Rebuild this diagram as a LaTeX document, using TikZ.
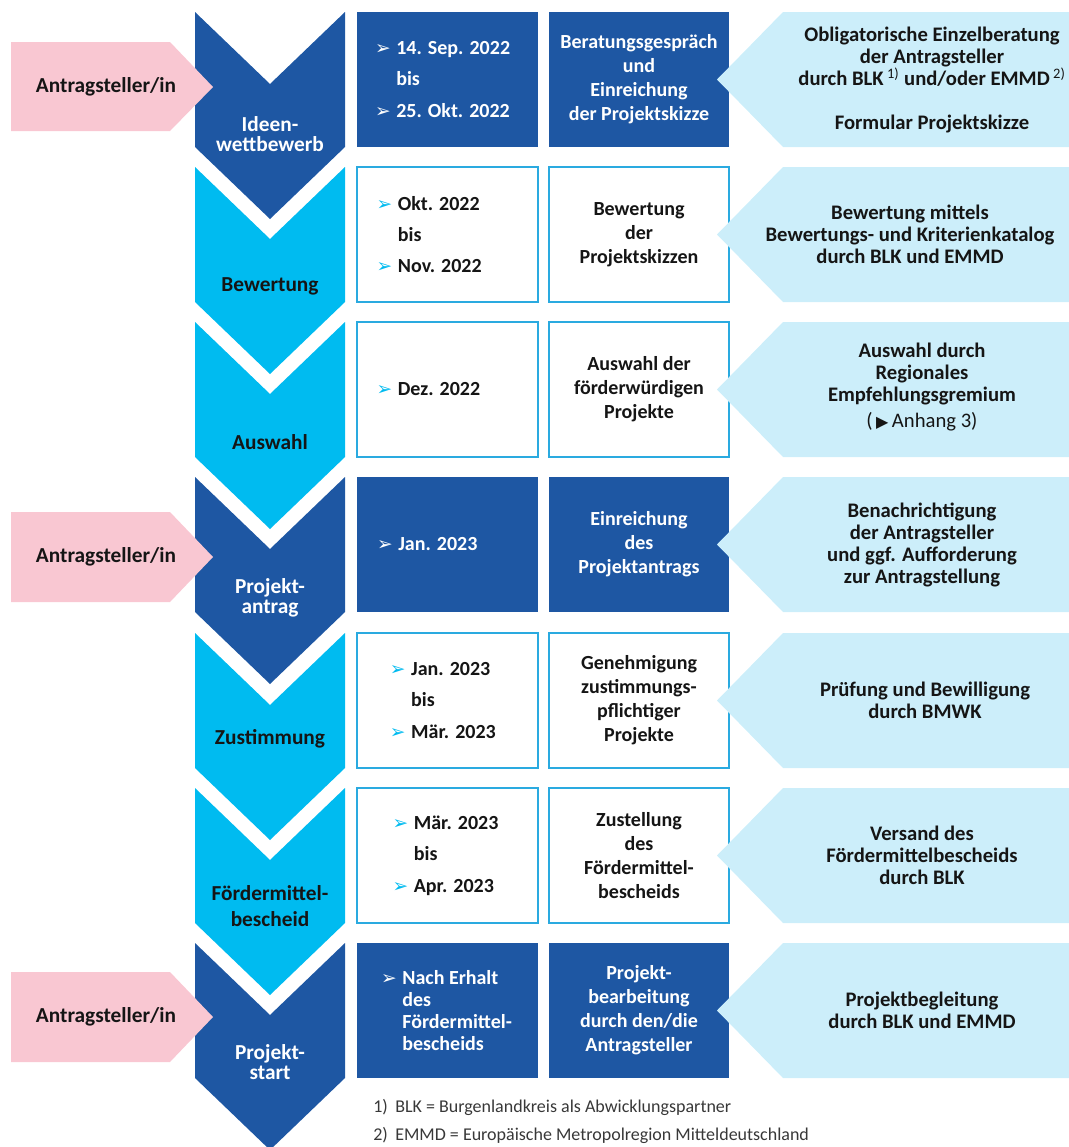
\documentclass[tikz,border=0pt]{standalone}
\usepackage{fontspec}
\setmainfont{Carlito}
\newfontfamily\dejavu{DejaVu Sans}

\definecolor{dkblue}{HTML}{1E57A3}
\definecolor{ltblue}{HTML}{00BBF0}
\definecolor{paleblue}{HTML}{CCEEFA}
\definecolor{rosa}{HTML}{F9C7D2}
\definecolor{frame}{HTML}{2AAAE0}
\definecolor{ink}{HTML}{151515}

\newcommand\dbul[1]{\makebox[16pt][l]{\textcolor{#1}{\dejavu\fontsize{14}{14}\selectfont ➢}}}
\newcommand\dind{\hspace*{16pt}}

\begin{document}
\begin{tikzpicture}[x=0.75pt, y=-0.75pt,
		stage/.style={font=\fontsize{16}{15}\selectfont\bfseries, align=center},
		datebox/.style={minimum width=135.75pt, minimum height=101.25pt, inner sep=0pt},
		actbox/.style={minimum width=135pt, minimum height=101.25pt, inner sep=2pt, align=center,
			font=\fontsize{15}{18}\selectfont\bfseries},
		datetext/.style={anchor=west, align=left, inner sep=0pt, font=\fontsize{15}{17.5}\selectfont\bfseries},
		dark/.style={fill=dkblue, text=white},
		light/.style={fill=white, draw=frame, line width=1.1pt, text=ink},
		calltext/.style={align=center, text=ink, font=\fontsize{15.5}{16.5}\selectfont\bfseries},
		pinktext/.style={text=ink, font=\fontsize{16}{18}\selectfont\bfseries},
		foot/.style={anchor=west, inner sep=0pt, text=ink!85, font=\fontsize{13.5}{15}\selectfont}]
	\clip (0,0) rectangle (1069,1147);

	% chevrons
	\fill[dkblue] (195,12) -- (270,84) -- (345,12) -- (345,147) -- (270,219) -- (195,147) -- cycle;
	\fill[ltblue] (195,167) -- (270,239) -- (345,167) -- (345,302) -- (270,374) -- (195,302) -- cycle;
	\fill[ltblue] (195,322) -- (270,394) -- (345,322) -- (345,457) -- (270,529) -- (195,457) -- cycle;
	\fill[dkblue] (195,477) -- (270,549) -- (345,477) -- (345,612) -- (270,684) -- (195,612) -- cycle;
	\fill[ltblue] (195,633) -- (270,705) -- (345,633) -- (345,768) -- (270,840) -- (195,768) -- cycle;
	\fill[ltblue] (195,788) -- (270,860) -- (345,788) -- (345,923) -- (270,995) -- (195,923) -- cycle;
	\fill[dkblue] (195,943) -- (270,1015) -- (345,943) -- (345,1078) -- (270,1150) -- (195,1078) -- cycle;

	\node (s1)[stage, text=white] at (270,134) {Ideen-\\wettbewerb};
	\node (s2)[stage, text=ink] at (270,286) {Bewertung};
	\node (s3)[stage, text=ink] at (270,442) {Auswahl};
	\node (s4)[stage, text=white] at (270,598) {Projekt-\\antrag};
	\node (s5)[stage, text=ink] at (270,739) {Zustimmung};
	\node (s6)[stage, text=ink] at (270,906) {Fördermittel-\\[5pt]bescheid};
	\node (s7)[stage, text=white] at (270,1062) {Projekt-\\start};

	% antragsteller
	\fill[rosa] (11,42) -- (170,42) -- (213,87) -- (170,131) -- (11,131) -- cycle;
	\fill[rosa] (11,512) -- (170,512) -- (213,557) -- (170,602) -- (11,602) -- cycle;
	\fill[rosa] (11,972) -- (170,972) -- (213,1017) -- (170,1062) -- (11,1062) -- cycle;
	\node (p1)[pinktext] at (106,87) {Antragsteller/in};
	\node (p4)[pinktext] at (106,557) {Antragsteller/in};
	\node (p7)[pinktext] at (106,1017) {Antragsteller/in};

	% termine
	\node (d1)[datebox, dark] at (447.5,79.5) {};
	\node (d2)[datebox, light] at (447.5,234.5) {};
	\node (d3)[datebox, light] at (447.5,389.5) {};
	\node (d4)[datebox, dark] at (447.5,544.5) {};
	\node (d5)[datebox, light] at (447.5,700.5) {};
	\node (d6)[datebox, light] at (447.5,855.5) {};
	\node (d7)[datebox, dark] at (447.5,1010.5) {};

	\node (dt1)[datetext, text=white] at ([xshift=13.5pt]d1.west) {\dbul{white}14. Sep. 2022\\[6pt]\dind bis\\[6pt]\dbul{white}25. Okt. 2022};
	\node (dt2)[datetext, text=ink] at ([xshift=15pt]d2.west) {\dbul{ltblue}Okt. 2022\\[6pt]\dind bis\\[6pt]\dbul{ltblue}Nov. 2022};
	\node (dt3)[datetext, text=ink] at ([xshift=15pt]d3.west) {\dbul{ltblue}Dez. 2022};
	\node (dt4)[datetext, text=white] at ([xshift=15pt]d4.west) {\dbul{white}Jan. 2023};
	\node (dt5)[datetext, text=ink] at ([xshift=25pt]d5.west) {\dbul{ltblue}Jan. 2023\\[6pt]\dind bis\\[6pt]\dbul{ltblue}Mär. 2023};
	\node (dt6)[datetext, text=ink] at ([xshift=27pt]d6.west) {\dbul{ltblue}Mär. 2023\\[6pt]\dind bis\\[6pt]\dbul{ltblue}Apr. 2023};
	\node (dt7)[datetext, text=white, font=\fontsize{15}{16.5}\selectfont\bfseries] at ([xshift=18pt]d7.west)
		{\dbul{white}Nach Erhalt\\\dind des\\\dind Fördermittel-\\\dind bescheids};

	% schritte
	\node (a1)[actbox, dark] at (639,79.5) {Beratungsgespräch\\und\\Einreichung\\der Projektskizze};
	\node (a2)[actbox, light] at (639,234.5) {Bewertung\\der\\Projektskizzen};
	\node (a3)[actbox, light] at (639,389.5) {Auswahl der\\förderwürdigen\\Projekte};
	\node (a4)[actbox, dark] at (639,544.5) {Einreichung\\des\\Projektantrags};
	\node (a5)[actbox, light] at (639,700.5) {Genehmigung\\zustimmungs-\\pflichtiger\\Projekte};
	\node (a6)[actbox, light] at (639,855.5) {Zustellung\\des\\Fördermittel-\\bescheids};
	\node (a7)[actbox, dark] at (639,1010.5) {Projekt-\\bearbeitung\\durch den/die\\Antragsteller};

	% zuständigkeit
	\fill[paleblue] (717,79.5) -- (783,12) -- (1069,12) -- (1069,147) -- (783,147) -- cycle;
	\fill[paleblue] (717,234.5) -- (783,167) -- (1069,167) -- (1069,302) -- (783,302) -- cycle;
	\fill[paleblue] (717,389.5) -- (783,322) -- (1069,322) -- (1069,457) -- (783,457) -- cycle;
	\fill[paleblue] (717,544.5) -- (783,477) -- (1069,477) -- (1069,612) -- (783,612) -- cycle;
	\fill[paleblue] (717,700.5) -- (783,633) -- (1069,633) -- (1069,768) -- (783,768) -- cycle;
	\fill[paleblue] (717,855.5) -- (783,788) -- (1069,788) -- (1069,923) -- (783,923) -- cycle;
	\fill[paleblue] (717,1010.5) -- (783,943) -- (1069,943) -- (1069,1078) -- (783,1078) -- cycle;

	\node (c1)[calltext] at (932,80) {Obligatorische Einzelberatung\\der Antragsteller\\durch BLK\,\textsuperscript{\mdseries 1)} und/oder EMMD\,\textsuperscript{\mdseries 2)}\\[17pt]Formular Projektskizze};
	\node (c2)[calltext] at (910,234.5) {Bewertung mittels\\Bewertungs- und Kriterienkatalog\\durch BLK und EMMD};
	\node (c3)[calltext] at (922,387) {Auswahl durch\\Regionales\\Empfehlungsgremium\\[3pt]{\mdseries (\,{\dejavu\fontsize{12}{12}\selectfont ▶}\,Anhang 3)}};
	\node (c4)[calltext] at (922,544.5) {Benachrichtigung\\der Antragsteller\\und ggf. Aufforderung\\zur Antragstellung};
	\node (c5)[calltext] at (925,700.5) {Prüfung und Bewilligung\\durch BMWK};
	\node (c6)[calltext] at (922,855.5) {Versand des\\Fördermittelbescheids\\durch BLK};
	\node (c7)[calltext] at (922,1010.5) {Projektbegleitung\\durch BLK und EMMD};

	\node (f1)[foot] at (373,1107) {\makebox[16.5pt][l]{1)}BLK = Burgenlandkreis als Abwicklungspartner};
	\node (f2)[foot] at (373,1135) {\makebox[16.5pt][l]{2)}EMMD = Europäische Metropolregion Mitteldeutschland};
\end{tikzpicture}
\end{document}
